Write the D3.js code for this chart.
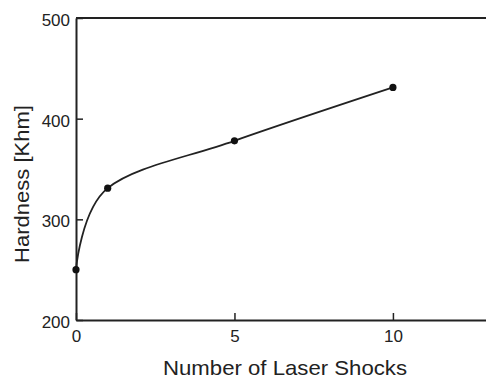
<!DOCTYPE html>
<html>
<head>
<meta charset="utf-8">
<script src="https://cdn.jsdelivr.net/npm/d3@7"></script>
<style>
  body { margin: 0; background: #fff; }
  svg text { font-family: "Liberation Sans", Arial, sans-serif; fill: #222; }
</style>
</head>
<body>
<div id="chart"></div>
<script>
// values
const shocks = [0, 1, 5, 10]
const hardness = [250, 331, 378, 431]
const xTicks = [0, 5, 10]
const yTicks = [200, 300, 400, 500]

const width = 486, height = 380
const margin = { top: 18, right: 0, bottom: 60, left: 76 }

const svg = d3.select("#chart").append("svg")
    .attr("width", width).attr("height", height)

const x = d3.scaleLinear().domain([0, 13]).range([margin.left, width + 2])
const y = d3.scaleLinear().domain([200, 500]).range([height - margin.bottom, margin.top])

const ink = "#222"

// y axis, ticks pointing inward
const yAxis = svg.append("g")
    .attr("transform", `translate(${margin.left},0)`)
    .call(d3.axisLeft(y).tickValues(yTicks).tickSizeInner(-7).tickSizeOuter(0).tickPadding(6))
yAxis.select(".domain").attr("stroke", ink).attr("stroke-width", 2)
yAxis.selectAll(".tick line").attr("stroke", ink).attr("stroke-width", 1.5)
yAxis.selectAll(".tick text").style("font-size", "17px").attr("fill", ink).attr("dy", "0.45em")

// x axis
const xAxis = svg.append("g")
    .attr("transform", `translate(0,${y(200)})`)
    .call(d3.axisBottom(x).tickValues(xTicks).tickSizeInner(-7).tickSizeOuter(0).tickPadding(10))
xAxis.select(".domain").attr("stroke", ink).attr("stroke-width", 2)
xAxis.selectAll(".tick line").attr("stroke", ink).attr("stroke-width", 1.5)
xAxis.selectAll(".tick text").style("font-size", "17px").attr("fill", ink)

// top frame line
svg.append("line")
    .attr("x1", margin.left).attr("x2", width)
    .attr("y1", y(500)).attr("y2", y(500))
    .attr("stroke", ink).attr("stroke-width", 2)

const data = shocks.map((s, i) => ({ s: s, h: hardness[i] }))

svg.append("path")
    .datum(data)
    .attr("fill", "none")
    .attr("stroke", ink)
    .attr("stroke-width", 1.8)
    .attr("d", d3.line().x(d => x(d.s)).y(d => y(d.h)).curve(d3.curveCardinal))

svg.selectAll(".pt")
    .data(data)
    .enter().append("circle")
    .attr("class", "pt")
    .attr("cx", d => x(d.s))
    .attr("cy", d => y(d.h))
    .attr("r", 3.6)
    .attr("fill", "#111")

// axis titles (the original lettering is wide and tight)
svg.append("text")
    .attr("x", 163).attr("y", 375)
    .attr("textLength", 244)
    .attr("lengthAdjust", "spacingAndGlyphs")
    .style("font-size", "21px")
    .text("Number of Laser Shocks")

svg.append("text")
    .attr("transform", "translate(29,263) rotate(-90)")
    .attr("textLength", 158)
    .attr("lengthAdjust", "spacingAndGlyphs")
    .style("font-size", "21px")
    .text("Hardness [Khm]")
</script>
</body>
</html>
